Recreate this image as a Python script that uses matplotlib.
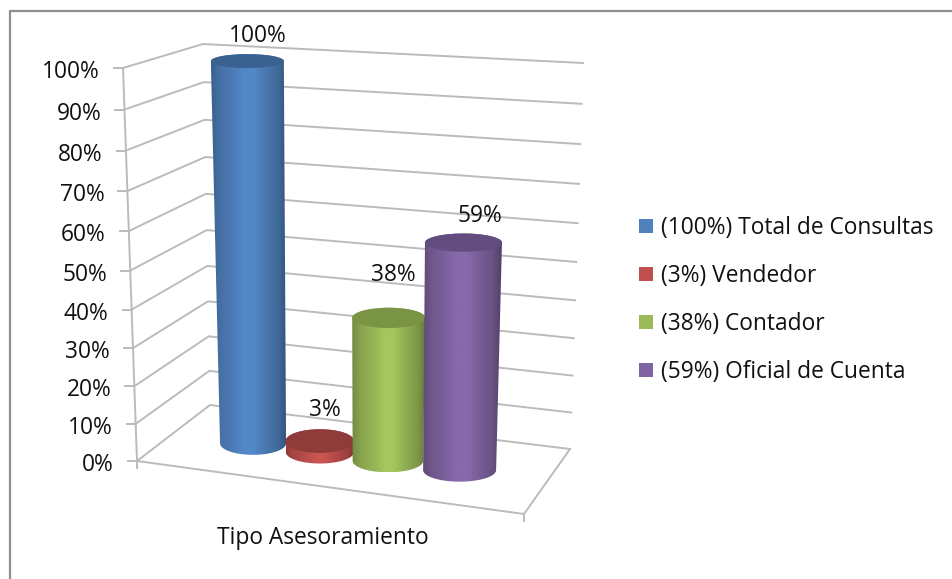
import numpy as np
import matplotlib
matplotlib.use('Agg')
import matplotlib.pyplot as plt
from matplotlib.patches import Ellipse, PathPatch, Rectangle
from matplotlib.path import Path

plt.rcParams['font.family'] = ['Open Sans', 'DejaVu Sans']

# данные
categories = ['Total de Consultas', 'Vendedor', 'Contador', 'Oficial de Cuenta']
values = [100, 3, 38, 59]
tick_values = [0, 10, 20, 30, 40, 50, 60, 70, 80, 90, 100]
axis_title = 'Tipo Asesoramiento'

# оформление
base_colors = ['#4F81BD', '#C0504D', '#9BBB59', '#8064A2']
top_colors = ['#3A6290', '#8E3B39', '#7A9446', '#634D7F']
grid_color = '#BBBBBB'
text_size = 16.4

# углы "коробки" в пикселях: (лево/право, перед/зад, низ/верх)
box = {
    'fl0': (137, 461), 'fl1': (123, 68),
    'bl0': (210, 405), 'bl1': (203, 44),
    'br0': (570, 449), 'br1': (583, 63),
    'fr0': (524, 514), 'fr1': (535, 97),
}
bar_u = [0.213, 0.392, 0.574, 0.766]  # положение цилиндров вдоль оси
label_dx = [10, 5, 5, 16]
label_dy = [-25, -31, -43, -27]


def frac(v):
    # небольшая перспектива по высоте
    t = v / 100
    return t / (1 + 0.064 * (1 - t))


def project(u, d, v):
    t = frac(v)
    pts = {k: np.array(p, dtype=float) for k, p in box.items()}
    low = (pts['fl0'] * (1 - u) + pts['fr0'] * u) * (1 - d) + (pts['bl0'] * (1 - u) + pts['br0'] * u) * d
    high = (pts['fl1'] * (1 - u) + pts['fr1'] * u) * (1 - d) + (pts['bl1'] * (1 - u) + pts['br1'] * u) * d
    return low * (1 - t) + high * t


def cylinder(ax, u, v, color, cap, order):
    bx, by = project(u, 0.5, 0)
    tx, ty = project(u, 0.5, v)
    t = frac(v)
    base_w = 33 + 6.3 * (u - 0.213)
    top_w = base_w + 3.5 * t
    base_h = 11.5
    top_h = 12 - 5 * t

    ang = np.linspace(0, np.pi, 60)
    lower = np.column_stack([bx - base_w * np.cos(ang), by + base_h * np.sin(ang)])
    upper = np.column_stack([tx + top_w * np.cos(ang), ty - top_h * np.sin(ang)])
    verts = np.vstack([lower, upper, lower[:1]])
    codes = [Path.MOVETO] + [Path.LINETO] * (len(verts) - 2) + [Path.CLOSEPOLY]
    side = PathPatch(Path(verts, codes), facecolor='none', edgecolor='none', zorder=order)
    ax.add_patch(side)

    # горизонтальный градиент боковой поверхности
    x0 = min(bx - base_w, tx - top_w)
    x1 = max(bx + base_w, tx + top_w)
    s = np.linspace(0, 1, 160)
    shade = np.interp(s, [0, 0.1, 0.45, 0.55, 0.9, 1], [0.74, 0.86, 1.06, 1.06, 0.8, 0.64])
    rgb = np.array(matplotlib.colors.to_rgb(color))
    img = np.clip(shade[None, :, None] * rgb[None, None, :], 0, 1)
    im = ax.imshow(img, extent=(x0, x1, by + base_h, ty - top_h), aspect='auto',
                   interpolation='bilinear', zorder=order)
    im.set_clip_path(side)

    ax.add_patch(Ellipse((tx, ty), 2 * top_w, 2 * top_h, facecolor=cap, edgecolor='none', zorder=order + 0.1))
    return tx, ty


fig = plt.figure(figsize=(9.53, 5.79), dpi=100)
ax = fig.add_axes([0, 0, 1, 1])

# сетка
for v in tick_values:
    a = project(0, 0, v)
    b = project(0, 1, v)
    c = project(1, 1, v)
    ax.plot([a[0], b[0], c[0]], [a[1], b[1], c[1]], color=grid_color, lw=1.4, zorder=1)
    ax.plot([a[0] - 9, a[0]], [a[1], a[1]], color=grid_color, lw=1.4, zorder=1)
    ax.text(a[0] - 23, a[1] + 4, f'{v}%', ha='right', va='center', fontsize=text_size, color='#111111')

# пол и вертикальная ось
floor = [project(0, 0, 0), project(1, 0, 0), project(1, 1, 0)]
ax.plot([p[0] for p in floor], [p[1] for p in floor], color=grid_color, lw=1.4, zorder=1)
top_axis = project(0, 0, 100)
bottom_axis = project(0, 0, 0)
ax.plot([top_axis[0], bottom_axis[0]], [top_axis[1], bottom_axis[1]], color=grid_color, lw=1.4, zorder=1)
ax.plot([bottom_axis[0]] * 2, [bottom_axis[1], bottom_axis[1] + 7], color=grid_color, lw=1.4, zorder=1)
ax.plot([floor[1][0]] * 2, [floor[1][1], floor[1][1] + 7], color=grid_color, lw=1.4, zorder=1)

# цилиндры и подписи значений
for i, v in enumerate(values):
    tx, ty = cylinder(ax, bar_u[i], v, base_colors[i], top_colors[i], 2 + i)
    ax.text(tx + label_dx[i], ty + label_dy[i], f'{v}%', ha='center', va='center',
            fontsize=text_size, color='#111111', zorder=10)

ax.text(323, 538, axis_title, ha='center', va='center', fontsize=text_size, color='#111111')

# легенда
for i, name in enumerate(categories):
    y = 226 + 48 * i
    ax.add_patch(Rectangle((639, y - 7), 14, 14, facecolor=base_colors[i], edgecolor='none'))
    ax.text(661, y + 2, f'({values[i]}%) {name}', ha='left', va='center', fontsize=text_size, color='#111111')

# рамка
ax.plot([10, 10, 953], [579, 11, 11], color='#8E8E8E', lw=1.6, zorder=1)

ax.set_xlim(0, 953)
ax.set_ylim(579, 0)
ax.axis('off')
fig.savefig('out.png', dpi=100, facecolor='white')
